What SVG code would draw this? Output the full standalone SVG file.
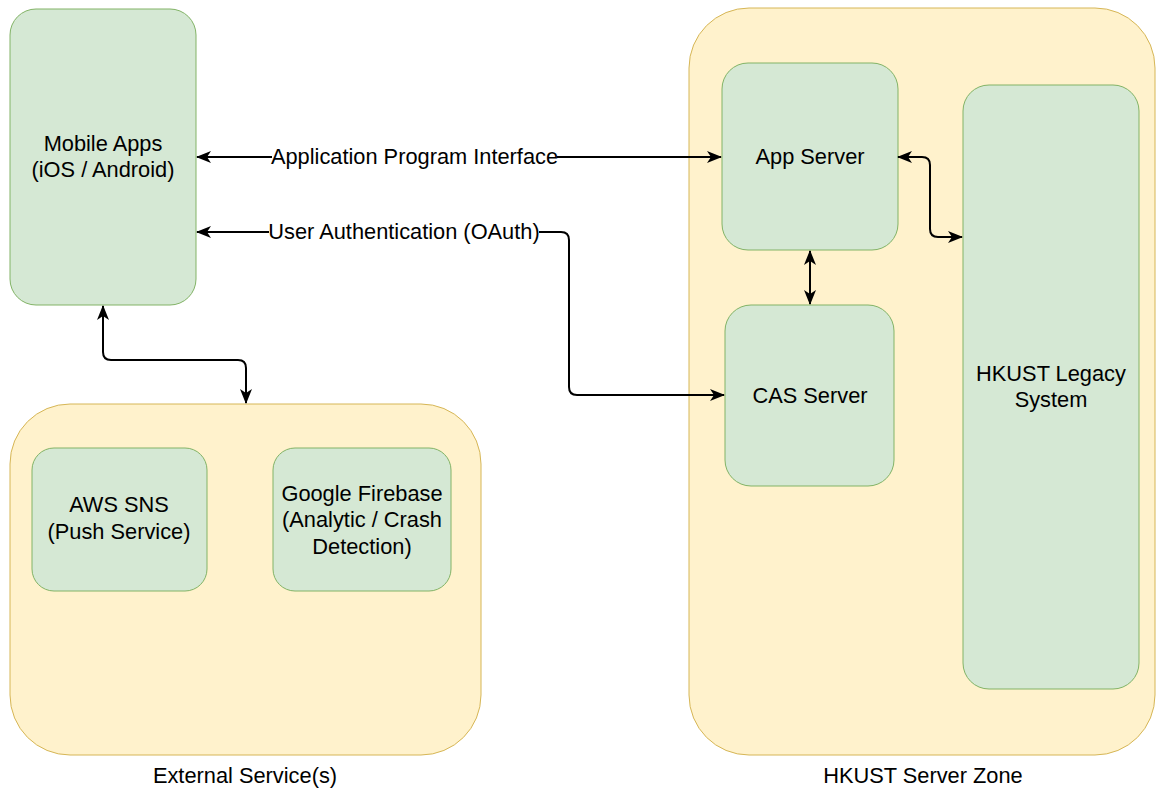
<svg xmlns="http://www.w3.org/2000/svg" width="1156" height="788" viewBox="0 0 1156 788">
<style>
.zone{fill:#fff2cc;stroke:#d6b656;stroke-width:1}
.node{fill:#d5e8d4;stroke:#82b366;stroke-width:1}
text{font-family:"Liberation Sans",Helvetica,Arial,sans-serif;font-size:21.8px;fill:#000;text-anchor:middle}
.edge{fill:none;stroke:#000;stroke-width:2}
.lbl{fill:#fff}
</style>
<defs>
<marker id="arr" viewBox="0 0 15 13" refX="14" refY="6.5" markerWidth="15" markerHeight="13" markerUnits="userSpaceOnUse" orient="auto-start-reverse">
<path d="M0,0.5 L15,6.5 L0,12.5 L4,6.5 z" fill="#000"/>
</marker>
</defs>
<rect width="1156" height="788" fill="#fff"/>
<g id="zone-external">
<rect class="zone" x="10" y="404" width="471" height="351" rx="60" ry="60"/>
<text x="245" y="783">External Service(s)</text>
</g>
<g id="zone-hkust">
<rect class="zone" x="689" y="8" width="466" height="747" rx="60" ry="60"/>
<text x="923" y="783">HKUST Server Zone</text>
</g>
<g id="mobile-apps">
<rect class="node" x="10" y="9" width="186" height="296" rx="26" ry="26"/>
<text x="103" y="151">Mobile Apps</text>
<text x="103" y="177">(iOS / Android)</text>
</g>
<g id="app-server">
<rect class="node" x="722" y="63" width="176" height="187" rx="26" ry="26"/>
<text x="810" y="164">App Server</text>
</g>
<g id="cas-server">
<rect class="node" x="725" y="305" width="169" height="181" rx="26" ry="26"/>
<text x="810" y="403">CAS Server</text>
</g>
<g id="legacy">
<rect class="node" x="963" y="85" width="176" height="604" rx="26" ry="26"/>
<text x="1051" y="381">HKUST Legacy</text>
<text x="1051" y="407">System</text>
</g>
<g id="aws-sns">
<rect class="node" x="32" y="448" width="175" height="143" rx="22" ry="22"/>
<text x="119" y="512">AWS SNS</text>
<text x="119" y="539">(Push Service)</text>
</g>
<g id="firebase">
<rect class="node" x="273" y="448" width="178" height="143" rx="22" ry="22"/>
<text x="362" y="501">Google Firebase</text>
<text x="362" y="527">(Analytic / Crash</text>
<text x="362" y="554">Detection)</text>
</g>
<g id="connectors">
<path class="edge" d="M197,157 H721" marker-start="url(#arr)" marker-end="url(#arr)"/>
<rect class="lbl" x="272" y="145" width="285" height="24"/>
<text x="414.5" y="164">Application Program Interface</text>
<path class="edge" d="M197,232 H561 Q569,232 569,240 V387 Q569,395 577,395 H724" marker-start="url(#arr)" marker-end="url(#arr)"/>
<rect class="lbl" x="269" y="220" width="270" height="24"/>
<text x="404" y="239">User Authentication (OAuth)</text>
<path class="edge" d="M898,157 H922 Q930,157 930,165 V229 Q930,237 938,237 H962" marker-start="url(#arr)" marker-end="url(#arr)"/>
<path class="edge" d="M810,251 V304" marker-start="url(#arr)" marker-end="url(#arr)"/>
<path class="edge" d="M103,306 V352 Q103,360 111,360 H238 Q246,360 246,368 V403" marker-start="url(#arr)" marker-end="url(#arr)"/>
</g>
</svg>
